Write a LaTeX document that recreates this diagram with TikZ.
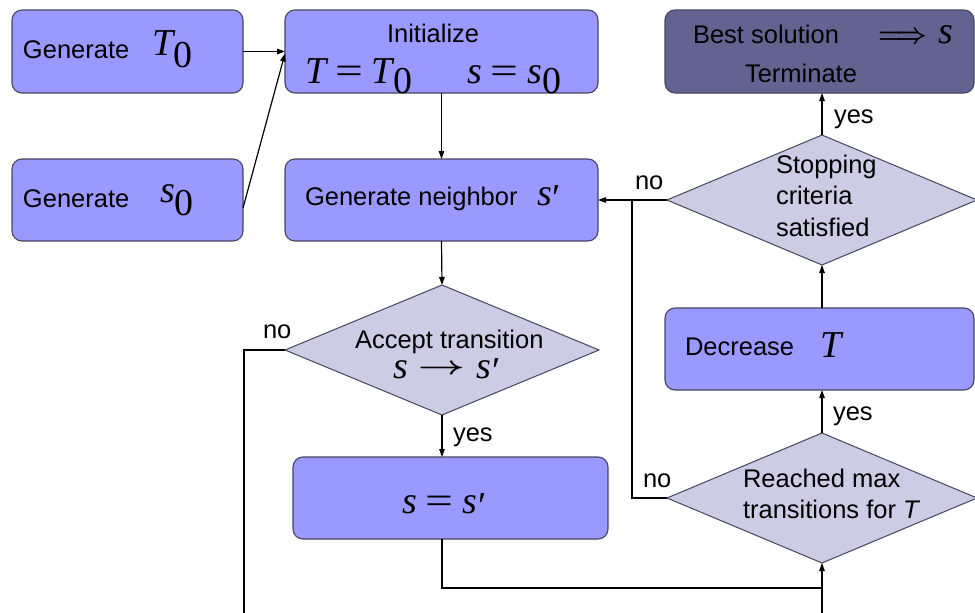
\documentclass[tikz,border=0pt]{standalone}
\usepackage{fontspec}
\usepackage{graphicx}
\setmainfont{Liberation Sans}
\newfontfamily\tms{Liberation Serif}
\usetikzlibrary{shapes.geometric,arrows.meta}
\definecolor{boxblue}{RGB}{153,153,255}
\definecolor{boxdark}{RGB}{99,99,145}
\definecolor{diafill}{RGB}{204,204,228}
\definecolor{edgecol}{RGB}{70,70,95}
\newcommand{\mf}{\fontsize{38}{38}\tms}
\newcommand{\mi}[1]{{\mf\itshape #1}}
\newcommand{\zs}[1]{\raisebox{-#1pt}{\mf 0}}
\newcommand{\eqs}{{\mf\hspace{9pt}\scalebox{1.3}[1]{=}\hspace{9pt}}}
\newcommand{\prm}{{\mf\hspace{1pt}\raisebox{-5pt}{′}}}
\newcommand{\rarr}{{\fontsize{10}{10}\selectfont\boldmath\hspace{10pt}\raisebox{4pt}{\scalebox{4.1}[2.6]{$\rightarrow$}}\hspace{12pt}}}
\newcommand{\darr}{{\fontsize{10}{10}\selectfont\boldmath\scalebox{2.7}[2.9]{$\Longrightarrow$}\hspace{10pt}}}
\tikzset{
  every node/.style={font=\fontsize{25.5}{31}\selectfont},
  boxn/.style={rectangle, rounded corners=10pt, draw=edgecol, line width=1.1pt,
    fill=boxblue, inner sep=0pt, outer sep=0pt},
  diab/.style={diamond, draw=edgecol, line width=1pt, fill=diafill,
    inner sep=0pt, outer sep=0pt},
  txt/.style={inner sep=0pt, outer sep=0pt, anchor=base west},
  conn/.style={draw=black, line width=1.2pt},
  arr/.style={conn, -{Triangle[length=8pt,width=5.5pt]}}
}
\begin{document}
\begin{tikzpicture}[x=1pt,y=-1pt]
\useasboundingbox (0,0) rectangle (975,613);
\clip (0,0) rectangle (975,613);
\fill[white] (0,0) rectangle (975,613);

% boxes
\node[boxn, minimum width=231pt, minimum height=83pt] (gt) at (127.5,51.5) {};
\node[boxn, minimum width=231pt, minimum height=82pt] (gs) at (127.5,200) {};
\node[boxn, minimum width=313pt, minimum height=83pt] (init) at (441.5,51.5) {};
\node[boxn, minimum width=313pt, minimum height=82pt] (gn) at (441.5,200) {};
\node[boxn, minimum width=315pt, minimum height=82pt] (ss) at (450.5,498) {};
\node[boxn, fill=boxdark, minimum width=309pt, minimum height=83pt] (best) at (819.5,51.5) {};
\node[boxn, minimum width=309pt, minimum height=82pt] (dec) at (819.5,349) {};

% diamonds
\node[diab, minimum width=314pt, minimum height=130pt] (acc) at (442,350) {};
\node[diab, minimum width=310pt, minimum height=130pt] (stop) at (822,200) {};
\node[diab, minimum width=310pt, minimum height=130pt] (reach) at (822,498) {};

% texts
\node[txt] (t1) at (23,58) {Generate};
\node[txt] (t1m) at (152,55) {\mi{T}\zs{12}};
\node[txt] (t2) at (23,207) {Generate};
\node[txt] (t2m) at (160,202) {\mi{s}\zs{13}};
\node[txt] (t3) at (387,42) {Initialize};
\node[txt] (t3a) at (305,83) {\mi{T}\eqs\mi{T}\zs{10}};
\node[txt] (t3b) at (467,83) {\mi{s}\eqs\mi{s}\zs{10}};
\node[txt] (t4) at (305,205) {Generate neighbor};
\node[txt] (t4m) at (537,205) {\mi{s}\prm};
\node[txt] (t5) at (355,348) {Accept transition};
\node[txt] (t5m) at (393,378) {\mi{s}\rarr\mi{s}\prm};
\node[txt] (t6) at (402,513) {\mi{s}\eqs\mi{s}\prm};
\node[txt] (t7) at (693,43) {Best solution};
\node[txt] (t7m) at (878,43) {\darr\mi{s}};
\node[txt] (t7b) at (745,82) {Terminate};
\node[txt] (t8a) at (776,173) {Stopping};
\node[txt] (t8b) at (776,204) {criteria};
\node[txt] (t8c) at (776,236) {satisfied};
\node[txt] (t9) at (685,355) {Decrease};
\node[txt] (t9m) at (820,357) {\mi{T}};
\node[txt] (t10a) at (743,487) {Reached max};
\node[txt] (t10b) at (743,518) {transitions for \textit{T}};

% labels
\node[txt] (yes1) at (453,441) {yes};
\node[txt] (no1) at (263,338) {no};
\node[txt] (yes2) at (833,420) {yes};
\node[txt] (no2) at (643,487) {no};
\node[txt] (yes3) at (834,123) {yes};
\node[txt] (no3) at (635,189) {no};

% coordinates
\coordinate (jn) at (822,588);
\coordinate (lowL) at (244,640);
\coordinate (jv) at (632,200);

% connectors
\draw[arr] (gt.east) -- (init.west);
\draw[arr] ([yshift=-8pt]gs.east) -- ([yshift=-2pt]init.west);
\draw[arr] (init.south) -- (gn.north);
\draw[arr] (gn.south) -- (acc.north);
\draw[arr] (acc.south) -- (acc.south |- ss.north);
\draw[conn] (acc.west) -| (lowL) -| (jn);
\draw[arr] (ss.south -| acc.south) |- (jn) -- (reach.south);
\draw[arr] (reach.north) -- (reach.north |- dec.south);
\draw[arr] (stop.south |- dec.north) -- (stop.south);
\draw[arr] (stop.north) -- (stop.north |- best.south);
\draw[conn] (reach.west) -| (jv);
\draw[arr] (stop.west) -- (gn.east);
\end{tikzpicture}
\end{document}
